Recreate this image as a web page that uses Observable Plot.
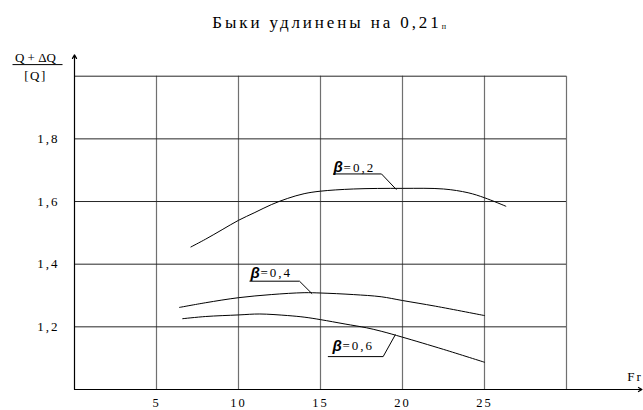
<!DOCTYPE html>
<html>
<head>
<meta charset="utf-8">
<script src="https://cdn.jsdelivr.net/npm/d3@7"></script>
<script src="https://cdn.jsdelivr.net/npm/@observablehq/plot@0.6"></script>
<style>
  html, body { margin: 0; padding: 0; background: #fff; }
  svg { display: block; }
</style>
</head>
<body>
<div id="chart"></div>
<script>
// ---- data ----
const titleText = "Быки удлинены на 0,21";
const titleSub = "п";
const yLabelTop = "Q + \u0394Q";
const yLabelBottom = "[Q]";
const xLabel = "Fr";

const xTickValues = [5, 10, 15, 20, 25];
const xGridValues = [5, 10, 15, 20, 25, 30];
const yTickValues = [1.2, 1.4, 1.6, 1.8];
const yGridValues = [1.2, 1.4, 1.6, 1.8, 2.0];

// β = 0,2
const fr02 = [7.1, 8, 9, 10, 11, 12, 13, 14, 15, 17, 20, 22.5, 24, 25, 26.3];
const q02  = [1.455, 1.48, 1.51, 1.54, 1.565, 1.59, 1.61, 1.625, 1.633, 1.64, 1.642, 1.64, 1.628, 1.612, 1.585];
// β = 0,4
const fr04 = [6.4, 8, 10, 12, 14, 15, 17, 18.7, 20, 22, 25];
const q04  = [1.262, 1.277, 1.293, 1.303, 1.309, 1.308, 1.303, 1.296, 1.284, 1.266, 1.236];
// β = 0,6
const fr06 = [6.6, 8, 10, 11.3, 13, 14, 15, 16.5, 17.8, 18.7, 20, 22.5, 25];
const q06  = [1.226, 1.233, 1.238, 1.241, 1.236, 1.231, 1.223, 1.209, 1.197, 1.186, 1.167, 1.128, 1.087];

const betaSymbol = "\u03B2";
const betaNames = ["0,2", "0,4", "0,6"];

// ---- build tables ----
const toRows = (fr, q) => fr.map((f, i) => ({fr: f, q: q[i]}));
const curves = [toRows(fr02, q02), toRows(fr04, q04), toRows(fr06, q06)];

// annotation placement (data units)
const annot = [
  {name: betaNames[0], tx: 15.8,  ty: 1.709, ux1: 15.77, ux2: 18.72, uy: 1.688,  lx: 19.63, ly: 1.638},
  {name: betaNames[1], tx: 10.73, ty: 1.371, ux1: 10.67, ux2: 13.72, uy: 1.3457, lx: 14.49, ly: 1.3055},
  {name: betaNames[2], tx: 15.73, ty: 1.138, ux1: 15.45, ux2: 18.82, uy: 1.105,  lx: 19.57, ly: 1.1755}
];

const serif = "'Liberation Serif', 'Times New Roman', serif";
const fmt = d => String(d).replace(".", ",");

const lineMarks = curves.map(rows =>
  Plot.line(rows, {x: "fr", y: "q", curve: "catmull-rom", stroke: "#000", strokeWidth: 1})
);

const chart = Plot.plot({
  width: 643,
  height: 410,
  marginLeft: 74,
  marginRight: 77,
  marginTop: 75.7,
  marginBottom: 21,
  x: {domain: [0, 30]},
  y: {domain: [1, 2]},
  style: {fontFamily: serif, fontSize: "13px", background: "#fff", color: "#000", overflow: "visible", letterSpacing: "2px"},
  marks: [
    Plot.ruleX(xGridValues, {y1: 1, y2: 2, stroke: "#707070", strokeWidth: 1.2}),
    Plot.ruleY(yGridValues, {x1: 0, x2: 30, stroke: "#262626", strokeWidth: 1}),
    // axes with arrows
    Plot.arrow([0], {x1: 0, y1: 1, x2: 0, y2: 2.068, stroke: "#000", strokeWidth: 1.2, headLength: 5, bend: 0}),
    Plot.arrow([0], {x1: 0, y1: 1, x2: 34.6, y2: 1, stroke: "#000", strokeWidth: 1.2, headLength: 5, bend: 0}),
    Plot.axisX(xTickValues, {tickSize: 0, tickPadding: 9, fontSize: 12.5, tickFormat: fmt}),
    Plot.axisY(yTickValues, {tickSize: 0, tickPadding: 15, fontSize: 13, tickFormat: fmt}),
    ...lineMarks,
    // annotations
    Plot.link(annot, {x1: "ux1", x2: "ux2", y1: "uy", y2: "uy", stroke: "#000", strokeWidth: 1}),
    Plot.link(annot, {x1: "ux2", y1: "uy", x2: "lx", y2: "ly", stroke: "#000", strokeWidth: 1}),
    Plot.text(annot, {x: "tx", y: "ty", text: () => betaSymbol, textAnchor: "start",
      fontFamily: "'Liberation Sans', Arial, sans-serif", fontWeight: "bold", fontStyle: "italic", fontSize: 15}),
    Plot.text(annot, {x: "tx", y: "ty", text: d => "=" + d.name, dx: 10, textAnchor: "start", fontSize: 13}),
    // y label fraction
    Plot.text([yLabelTop], {x: -2.38, y: 2.06, text: d => d, fontSize: 13}),
    Plot.link([0], {x1: -3.78, x2: -0.73, y1: 2.037, y2: 2.037, stroke: "#000", strokeWidth: 1}),
    Plot.text([yLabelBottom], {x: -2.38, y: 2.002, text: d => d, fontSize: 13}),
    // x label
    Plot.text([xLabel], {x: 33.7, y: 1.0415, text: d => d, textAnchor: "start", fontSize: 13}),
    // title
    Plot.text([titleText], {x: 8.4, y: 2.1698, text: d => d, textAnchor: "start", fontSize: 17})
  ]
});

// per-text letter spacing and the title subscript
d3.select(chart).selectAll("text").each(function() {
  const t = this.textContent;
  const sel = d3.select(this);
  if (t === titleText) {
    sel.style("letter-spacing", "2.9px");
    sel.append("tspan").attr("font-size", 8).attr("dy", "1").style("letter-spacing", "0px").text(titleSub);
  } else if (t === betaSymbol) {
    sel.style("letter-spacing", "0px");
  } else if (t === yLabelTop) {
    sel.style("letter-spacing", "0px");
  } else if (t === yLabelBottom) {
    sel.style("letter-spacing", "1.5px");
  }
});

document.getElementById("chart").append(chart);
</script>
</body>
</html>
